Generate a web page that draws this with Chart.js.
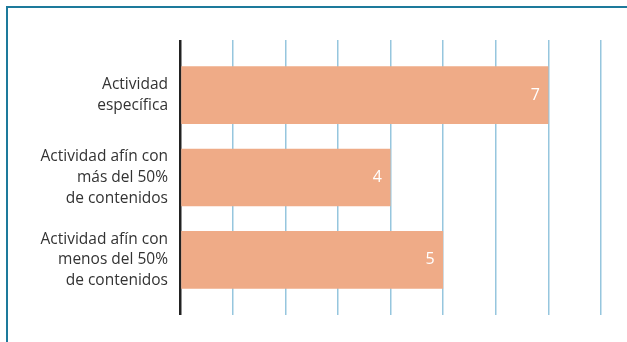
<!DOCTYPE html>
<html>
<head>
<meta charset="utf-8">
<script src="https://cdn.jsdelivr.net/npm/chart.js@4/dist/chart.umd.min.js"></script>
<style>
  html, body { margin: 0; padding: 0; background: #fff; overflow: hidden; }
  #frame { position: absolute; left: 6px; top: 6px; width: 700px; height: 400px;
           border-top: 2px solid #1d7a9b; border-left: 2px solid #1d7a9b; }
  #wrap { position: absolute; left: 0; top: 0; width: 627px; height: 342px; }
</style>
</head>
<body>
<div id="frame"></div>
<div id="wrap"><canvas id="c" width="627" height="342"></canvas></div>
<script>
// Categories (multi-line labels) and their values
const categories = [
  ['Actividad', 'específica'],
  ['Actividad afín con', 'más del 50%', 'de contenidos'],
  ['Actividad afín con', 'menos del 50%', 'de contenidos']
];
const values = [7, 4, 5];
const axisMin = 0;
const axisMax = 8;

const barColor = '#efab87';
const gridColor = '#96c6de';
const axisColor = '#222222';

const gridLineColor = ctx => (ctx.tick && ctx.tick.value === 0 ? axisColor : gridColor);
const gridLineWidth = ctx => (ctx.tick && ctx.tick.value === 0 ? 2.5 : 1.5);

// White value labels drawn just inside the end of each bar
const valueLabels = {
  id: 'valueLabels',
  afterDatasetsDraw(chart) {
    const { ctx } = chart;
    const meta = chart.getDatasetMeta(0);
    ctx.save();
    ctx.font = '16px "Open Sans"';
    ctx.fillStyle = '#ffffff';
    ctx.textAlign = 'right';
    ctx.textBaseline = 'middle';
    meta.data.forEach((bar, i) => {
      ctx.fillText(String(chart.data.datasets[0].data[i]), bar.x - 8.5, bar.y);
    });
    ctx.restore();
  }
};

new Chart(document.getElementById('c'), {
  type: 'bar',
  data: {
    labels: categories,
    datasets: [{
      data: values,
      backgroundColor: barColor,
      borderWidth: 0,
      barPercentage: 0.7,
      categoryPercentage: 1.0
    }]
  },
  options: {
    indexAxis: 'y',
    responsive: false,
    animation: false,
    layout: { padding: { left: 0, right: 26, top: 40, bottom: 27 } },
    plugins: { legend: { display: false }, tooltip: { enabled: false } },
    scales: {
      x: {
        position: 'bottom',
        min: axisMin, max: axisMax,
        ticks: { display: false, stepSize: 1 },
        border: { display: false },
        grid: { color: gridLineColor, lineWidth: gridLineWidth, drawTicks: true, tickLength: 14 }
      },
      x2: {
        type: 'linear',
        position: 'top',
        min: axisMin, max: axisMax,
        ticks: { display: false, stepSize: 1 },
        border: { display: false },
        grid: { color: gridLineColor, lineWidth: gridLineWidth, drawOnChartArea: false, drawTicks: true, tickLength: 14 }
      },
      y: {
        border: { display: false },
        grid: { display: false, drawTicks: false },
        ticks: {
          color: '#333333',
          padding: 12,
          font: { family: '"Open Sans"', size: 15.5, lineHeight: 1.33 }
        },
        afterFit(scale) { scale.width = 180; }
      }
    }
  },
  plugins: [valueLabels]
});
</script>
</body>
</html>
